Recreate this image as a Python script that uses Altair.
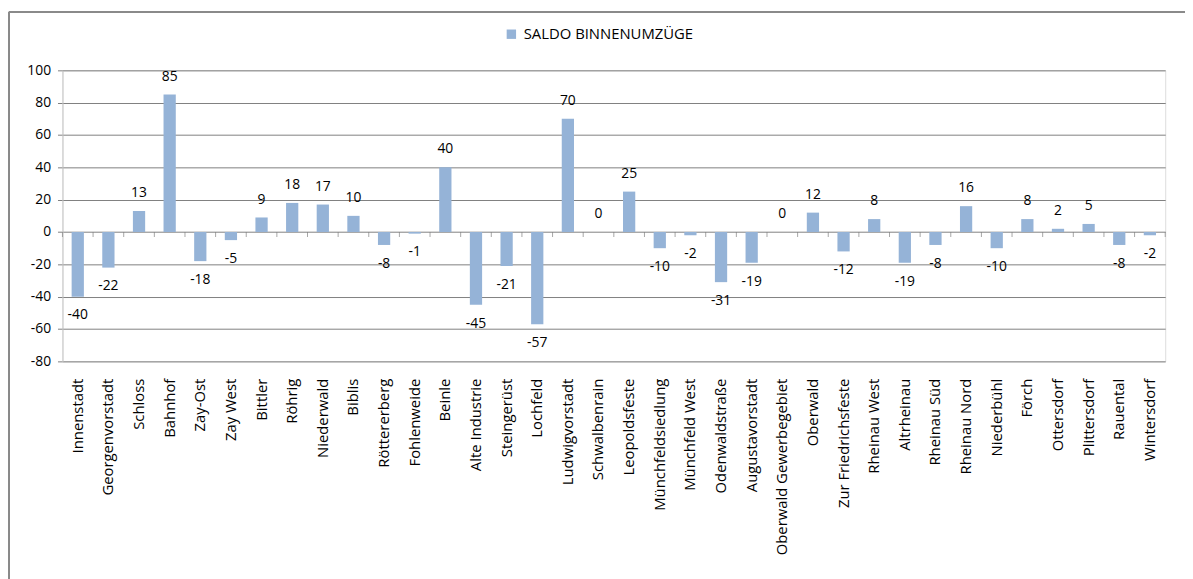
import altair as alt
import pandas as pd

categories = ["Innenstadt", "Georgenvorstadt", "Schloss", "Bahnhof", "Zay-Ost", "Zay West",
              "Bittler", "Röhrig", "Niederwald", "Biblis", "Röttererberg", "Fohlenweide",
              "Beinle", "Alte Industrie", "Steingerüst", "Lochfeld", "Ludwigvorstadt",
              "Schwalbenrain", "Leopoldsfeste", "Münchfeldsiedlung", "Münchfeld West",
              "Odenwaldstraße", "Augustavorstadt", "Oberwald Gewerbegebiet", "Oberwald",
              "Zur Friedrichsfeste", "Rheinau West", "Altrheinau", "Rheinau Süd",
              "Rheinau Nord", "Niederbühl", "Förch", "Ottersdorf", "Plittersdorf",
              "Rauental", "Wintersdorf"]
values = [-40, -22, 13, 85, -18, -5, 9, 18, 17, 10, -8, -1, 40, -45, -21, -57, 70, 0,
          25, -10, -2, -31, -19, 0, 12, -12, 8, -19, -8, 16, -10, 8, 2, 5, -8, -2]
series_name = "SALDO BINNENUMZÜGE"
y_ticks = [-80, -60, -40, -20, 0, 20, 40, 60, 80, 100]

df = pd.DataFrame({"cat": categories, "v": values, "series": series_name})

W, H = 1114, 294
TOP = 60
FONT = "Open Sans"
GRID = "#808080"
P_IN, P_OUT = 0.6, 0.3
STEP = W / (len(categories) - P_IN + 2 * P_OUT)
GAP = P_OUT * STEP  # distance from bar edge to category boundary

xscale = alt.Scale(domain=categories, paddingInner=P_IN, paddingOuter=P_OUT)
yscale = alt.Scale(domain=[-80, 100], nice=False, zero=False)

x_axis = alt.Axis(orient="bottom", labelAngle=-90, labelFont=FONT, labelFontSize=15,
                  labelColor="#000000", labelPadding=17, ticks=False, domain=False,
                  grid=False, labelAlign="right", labelBaseline="middle", labelLimit=0)
y_axis = alt.Axis(values=y_ticks, grid=True, gridColor=GRID, gridWidth=1,
                  domainColor="#c8c8c8", tickColor=GRID, tickSize=5,
                  labelFont=FONT, labelFontSize=14, labelColor="#000000",
                  labelPadding=7, labelExpr="'' + datum.value")

X = alt.X("cat:N", scale=xscale, sort=categories, title=None, axis=x_axis)
Y = alt.Y("v:Q", scale=yscale, title=None, axis=y_axis)

base = alt.Chart(df).transform_calculate(lab="'' + datum.v")

bars = base.mark_bar(color="#95b3d7").encode(
    x=X, y=Y,
    color=alt.Color("series:N",
                    scale=alt.Scale(domain=[series_name], range=["#95b3d7"]),
                    legend=alt.Legend(title=None, orient="none", legendX=446, legendY=-44,
                                      symbolType="square", symbolSize=90,
                                      symbolStrokeWidth=0, labelFont=FONT,
                                      labelFontSize=15, labelColor="#000000",
                                      labelOffset=5, labelLimit=0)),
)

pos_text = base.transform_filter("datum.v >= 0").mark_text(
    dy=-18, font=FONT, fontSize=14, color="#000000", baseline="middle").encode(
    x=X, y=Y, text=alt.Text("lab:N"))

neg_text = base.transform_filter("datum.v < 0").mark_text(
    dy=19, font=FONT, fontSize=14, color="#000000", baseline="middle").encode(
    x=X, y=Y, text=alt.Text("lab:N"))

# tick marks on the zero line at category boundaries
zero_ticks = base.mark_tick(orient="vertical", size=5, yOffset=2.5, xOffset=-GAP,
                            color=GRID, thickness=1).encode(
    x=alt.X("cat:N", scale=xscale, sort=categories, title=None, axis=x_axis,
            bandPosition=0),
    y=alt.Y(datum=0, scale=yscale, axis=y_axis, title=None))

end_tick = base.transform_filter(
    alt.datum.cat == categories[-1]).mark_tick(orient="vertical", size=5, yOffset=2.5,
                                               xOffset=GAP, color=GRID,
                                               thickness=1).encode(
    x=alt.X("cat:N", scale=xscale, sort=categories, title=None, axis=x_axis,
            bandPosition=1),
    y=alt.Y(datum=0, scale=yscale, axis=y_axis, title=None))

frame_left = alt.Chart(df).mark_rule(color="#8a8a8a", strokeWidth=2).encode(
    x=alt.value(-54), y=alt.value(1 - TOP), y2=alt.value(H + 300))
frame_top = alt.Chart(df).mark_rule(color="#8a8a8a", strokeWidth=2).encode(
    x=alt.value(-54), x2=alt.value(W + 40), y=alt.value(1 - TOP))

chart = alt.layer(bars, zero_ticks, end_tick, pos_text, neg_text, frame_left,
                  frame_top).properties(
    width=W, height=H,
    autosize=alt.AutoSizeParams(type="none"),
    padding={"left": 55, "top": TOP, "right": 20, "bottom": 230},
).configure_view(strokeWidth=0).configure(background="white")

chart.save("out.html", embed_options={"renderer": "svg", "actions": False})
